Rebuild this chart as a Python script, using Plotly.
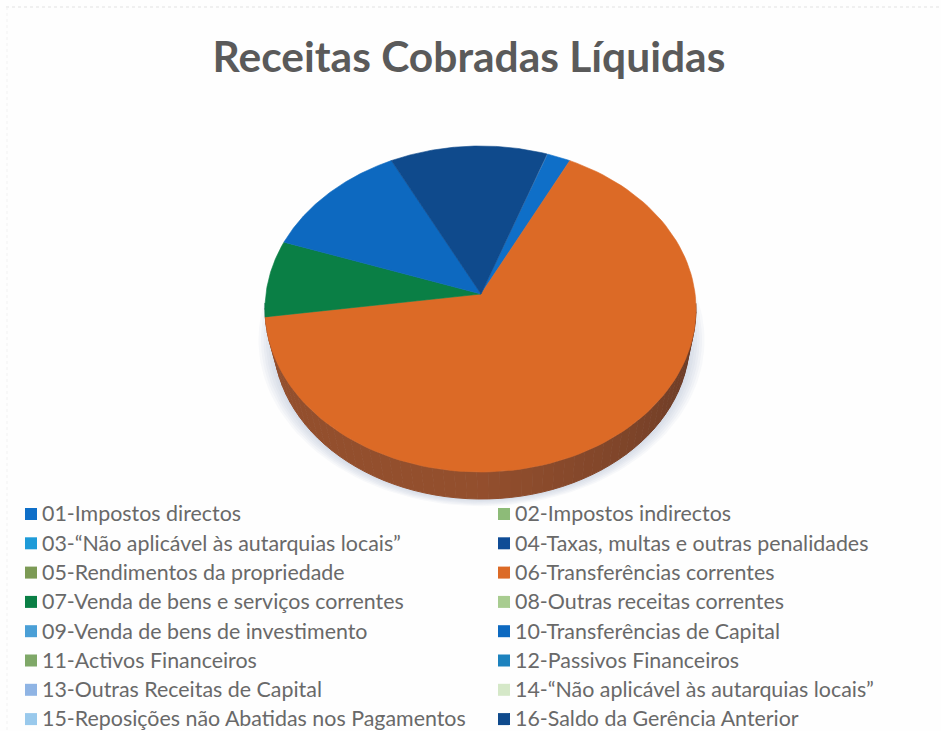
import numpy as np
import plotly.graph_objects as go

TITLE = "Receitas Cobradas Líquidas"
categories = [
    "01-Impostos directos", "02-Impostos indirectos",
    "03-“Não aplicável às autarquias locais”", "04-Taxas, multas e outras penalidades",
    "05-Rendimentos da propriedade", "06-Transferências correntes",
    "07-Venda de bens e serviços correntes", "08-Outras receitas correntes",
    "09-Venda de bens de investimento", "10-Transferências de Capital",
    "11-Activos Financeiros", "12-Passivos Financeiros",
    "13-Outras Receitas de Capital", "14-“Não aplicável às autarquias locais”",
    "15-Reposições não Abatidas nos Pagamentos", "16-Saldo da Gerência Anterior",
]
shares = [1.8, 0, 0, 0, 0, 67.5, 7.5, 0, 0, 11.5, 0, 0, 0, 0, 0, 11.8]
colors = [
    "#0F6FC8", "#8DBB78", "#1E9BD8", "#0F4C96", "#7C9A55", "#DC6A26", "#0A7F45", "#A8CC90",
    "#4A9FD6", "#0D69C0", "#7FA868", "#1D82BE", "#8FB4E4", "#D5E8C8", "#99C9EC", "#0F4A8C",
]
START_DEG = 18.0

W, H = 941, 731
TOP = dict(cx=480.5, cy=309.0, rx=215.5, ry=163.0)
BOT = dict(cx=481.5, cy=340.0, rx=208.0, ry=159.0)
APEX = (481.0, 294.0)


def rim(e, deg):
    t = np.radians(deg)
    return e["cx"] + e["rx"] * np.sin(t), e["cy"] - e["ry"] * np.cos(t)


def wall_colour(hex_color, f):
    r, g, b = (int(hex_color[i:i + 2], 16) for i in (1, 3, 5))
    return f"rgb({int(r * f)},{int(g * f + 8)},{int(b * f + 20)})"


fig = go.Figure()

# soft shadow under the disc
for k in range(6, 0, -1):
    xs, ys = rim(dict(BOT, rx=BOT["rx"] + 2.5 * k, ry=BOT["ry"] + 1.2 * k), np.linspace(0, 360, 181))
    fig.add_trace(go.Scatter(x=xs, y=ys, mode="lines", fill="toself", line=dict(width=0),
                             fillcolor="rgba(140,155,190,0.06)", showlegend=False, hoverinfo="skip"))

# side wall, then top face
angle = START_DEG
spans = []
total = sum(shares)
for name, share, color in zip(categories, shares, colors):
    sweep = share / total * 360
    spans.append((name, color, angle, angle + sweep))
    angle += sweep

for name, color, a0, a1 in spans:
    lo, hi = max(a0, 88), min(a1, 272)
    if a1 - a0 <= 0 or lo >= hi:
        continue
    edges = np.arange(lo, hi, 3.0).tolist() + [hi]
    for e0, e1 in zip(edges[:-1], edges[1:]):
        mid = (e0 + e1) / 2
        f = 0.47 + 0.2 * min(1.0, (mid - 90) / 90)
        seg = np.linspace(e0, e1, 4)
        tx, ty = rim(TOP, seg)
        bx, by = rim(BOT, seg[::-1])
        c = wall_colour(color, f)
        fig.add_trace(go.Scatter(x=np.r_[tx, bx], y=np.r_[ty, by], mode="lines", fill="toself",
                                 line=dict(width=1, color=c), fillcolor=c,
                                 showlegend=False, hoverinfo="skip"))

for name, color, a0, a1 in spans:
    if a1 - a0 <= 0:
        continue
    xs, ys = rim(TOP, np.linspace(a0, a1, 120))
    fig.add_trace(go.Scatter(x=np.r_[APEX[0], xs, APEX[0]], y=np.r_[APEX[1], ys, APEX[1]],
                             mode="lines", fill="toself", line=dict(width=0.6, color=color),
                             fillcolor=color, name=name, showlegend=False,
                             hovertemplate=name + "<extra></extra>"))

# legend: two columns, filled across rows
MARK_X = [31, 504]
TEXT_X = [42, 515]
ROW_Y0, ROW_DY = 514, 29.3
for i, (name, color) in enumerate(zip(categories, colors)):
    c, y = i % 2, ROW_Y0 + ROW_DY * (i // 2)
    fig.add_trace(go.Scatter(x=[MARK_X[c]], y=[y], mode="markers",
                             marker=dict(symbol="square", size=12, color=color, line=dict(width=0)),
                             name=name, showlegend=False, hoverinfo="skip"))
    fig.add_trace(go.Scatter(x=[TEXT_X[c]], y=[y + 2], mode="text",
                             text=[name], textposition="middle right",
                             textfont=dict(family="Lato", size=21.4, color="#696969"),
                             showlegend=False, hoverinfo="skip"))

fig.update_layout(
    width=W, height=H, margin=dict(l=0, r=0, t=0, b=0),
    paper_bgcolor="#FEFEFE", plot_bgcolor="#FEFEFE", showlegend=False,
    title=dict(text=f"<b>{TITLE}</b>", x=469 / W, xanchor="center", xref="paper",
               y=1 - 57 / H, yanchor="middle", yref="paper",
               font=dict(family="Lato", size=42.5, color="#5A5A5A")),
    xaxis=dict(range=[0, W], visible=False, fixedrange=True),
    yaxis=dict(range=[H, 0], visible=False, fixedrange=True),
    shapes=[
        dict(type="line", x0=6, x1=W, y0=7, y1=7, line=dict(color="#E2E2E2", width=1, dash="dot")),
        dict(type="line", x0=7, x1=7, y0=7, y1=H, line=dict(color="#F2F2F2", width=1, dash="dot")),
    ],
)
fig.write_html("out.html", config=dict(displayModeBar=False),
               post_script="document.body.style.margin='0';document.body.style.overflow='hidden';")
